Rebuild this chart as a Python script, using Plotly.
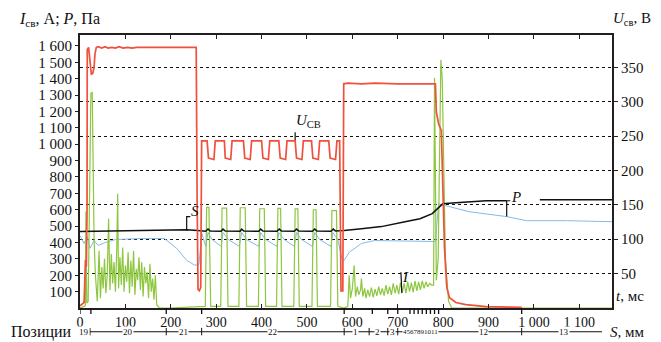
import plotly.graph_objects as go

# ---------------- data ----------------
x_tickvals = [0, 100, 200, 300, 400, 500, 600, 700, 800, 900, 1000, 1100]
x_ticktext = ["0", "100", "200", "300", "400", "500", "600", "700", "800", "900", "1 000", "1 100"]
yl_tickvals = [100, 200, 300, 400, 500, 600, 700, 800, 900, 1000, 1100, 1200, 1300, 1400, 1500, 1600]
yl_ticktext = ["100", "200", "300", "400", "500", "600", "700", "800", "900", "1 000",
               "1 100", "1 200", "1 300", "1 400", "1 500", "1 600"]
yr_tickvals = [50, 100, 150, 200, 250, 300, 350]

# U_св (V, right axis)
red_t = [0, 9, 12, 14, 15.5, 16, 19, 21, 23, 25, 28, 31, 33, 36, 40, 48, 55, 62, 70, 78, 86, 95, 105, 115,
         125, 140, 160, 180, 200, 220, 240, 256, 258, 260, 263, 266,
         268, 280, 283, 295, 298,
         318, 320, 332, 335,
         360, 363, 375, 378,
         400, 403, 415, 418,
         438, 441, 453, 456,
         474, 477, 489, 492,
         510, 513, 525, 528,
         548, 551, 563, 566,
         572, 575, 579, 581, 590, 620, 650, 700, 740, 783,
         785, 790, 796, 803, 808, 814, 828, 850, 895, 973]
red_u = [3, 8, 70, 60, 142, 376, 379, 365, 345, 340, 341, 350, 370, 379, 380, 378, 380, 378, 379, 378, 380, 378, 379, 378,
         379, 379, 379, 378, 379, 379, 379, 379, 162, 27, 25, 30,
         243, 243, 218, 216, 243,
         243, 218, 216, 243,
         243, 218, 216, 243,
         243, 218, 216, 243,
         243, 218, 216, 243,
         243, 218, 216, 243,
         243, 218, 216, 243,
         243, 218, 216, 243,
         243, 25, 25, 326, 327, 326, 327, 326, 326, 326,
         285, 268, 258, 87, 30, 15, 8, 5, 2, 1]

# I (A, left axis)
green_t = [0, 10, 12, 13, 15, 18, 24, 27, 31, 34, 38, 42, 45, 48, 51, 54, 57, 60, 63, 66, 69, 72, 75, 78, 81,
           83, 85, 88, 91, 94, 97, 100, 103, 106, 109, 112, 115, 118, 121, 124, 127, 130, 133, 136, 139,
           142, 145, 148, 151, 154, 157, 160, 163, 166, 169, 172, 175, 178, 181, 184, 187, 190, 195,
           276, 279, 284, 288,
           310, 313, 323, 326,
           350, 353, 364, 367,
           393, 396, 406, 409,
           433, 436, 442, 445,
           471, 474, 480, 483,
           511, 514, 520, 523,
           552, 555, 565, 568,
           582, 590, 593, 596, 600, 604, 607, 611, 614, 618, 620, 623, 627, 630, 634, 638, 642, 646, 650,
           654, 658, 662, 666, 670, 674, 678, 682, 686, 690, 694, 698, 702, 706, 710, 714, 718, 722, 726,
           730, 734, 738, 742, 746, 750, 754, 758, 762, 766, 770, 775, 779,
           781, 785, 789, 795, 798, 805, 812, 819, 1172]
green_i = [0, 10, 20, 590, 30, 40, 1310, 1315, 420, 200, 40, 350, 60, 250, 120, 300, 90, 200, 545, 110, 330, 150,
           280, 100, 360,
           697, 120, 310, 140, 370, 100, 260, 160, 340, 90, 290, 130, 350, 80, 240, 170, 310, 110, 280, 70,
           250, 150, 220, 60, 270, 100, 180, 50, 200, 20, 10, 0, 0, 0, 0, 0, 0, 0,
           10, 615, 615, 10,
           10, 610, 610, 10,
           10, 612, 612, 10,
           10, 606, 606, 10,
           10, 608, 608, 10,
           10, 605, 605, 10,
           10, 600, 600, 10,
           10, 594, 594, 10,
           0, 10, 200, 60, 120, 260, 70, 130, 80, 110, 180, 70, 120, 60, 110, 70, 125, 65, 115,
           75, 130, 80, 120, 75, 140, 85, 130, 80, 150, 90, 140, 85, 155, 95, 150, 90, 160, 100,
           155, 95, 165, 105, 160, 110, 165, 120, 160, 130, 150, 140, 140,
           1406, 170, 300, 1515, 1400, 300, 40, 0, 0]

# P (Pa, left axis)
black_t = [0, 80, 134, 201, 235, 259, 268, 277, 282, 287, 311, 315, 320, 353, 356, 361, 394, 398, 403,
           434, 439, 444, 472, 477, 482, 512, 517, 522, 553, 558, 563, 582, 620, 664, 716, 749, 776,
           783, 790, 799, 828, 857, 895, 940, None, 1013, 1172]
black_p = [467, 470, 473, 479, 478, 473, 470, 469, 482, 470, 469, 482, 470, 469, 482, 470, 469, 482, 470,
           469, 482, 470, 469, 482, 470, 469, 482, 470, 469, 482, 470, 473, 484, 497, 527, 545, 576,
           594, 618, 636, 642, 648, 655, 655, None, 661, 661]

# blue trace (left axis)
blue_t = [0, 9, 16, 22, 31, 40, 56, 78, 134, 186, 213, 235, 253, 262,
          268.5, 277, 282, 291, 311, 315, 327, 351, 356, 367, 394, 398, 409, 434, 438, 450,
          472, 477, 488, 512, 517, 528, 553, 557, 568, 577, 582, 593, 620, 649, 783, 790,
          857, 940, 984, 1074, 1172]
blue_v = [442, 394, 436, 364, 412, 382, 400, 418, 424, 424, 364, 291, 261, 267,
          455, 376, 461, 418, 376, 461, 418, 376, 461, 418, 376, 461, 418, 376, 461, 418,
          376, 461, 418, 376, 461, 418, 376, 461, 418, 300, 291, 340, 394, 412, 406, 636,
          588, 558, 533, 533, 527]

# position row (S, mm) boundaries and labels
pos_bounds = [0, 22, 190, 268, 582, 637, 678, 700, 973]
pos_line_end = 1150
axis_ticks = [0, 24, 190, 268, 582, 644, 678, 700, 727, 736, 745, 754, 763, 772, 781, 790, 973]
pos_labels = ["19", "20", "21", "22", "1", "2", "3", "4567891011", "12", "13"]
pos_label_t = [9, 105, 228, 425, 608, 656, 689, 750, 888, 1067]

# in-plot labels: text, label position, leader line
marks = [
    ("<i>S</i>", 253, 594, [235, 235, 243], [473, 558, 558]),
    ("<i>U</i><sub>СВ</sub>", 503, 1139, [474, 474], [1018, 1073]),
    ("<i>I</i>", 718, 188, [707, 709], [218, 91]),
    ("<i>P</i>", 960, 679, [948, 940, 940], [655, 655, 558]),
]

SERIF = "Liberation Serif"
fig = go.Figure()
fig.add_trace(go.Scatter(x=blue_t, y=blue_v, mode="lines", line=dict(color="#86b8e8", width=1), yaxis="y"))
fig.add_trace(go.Scatter(x=green_t, y=green_i, mode="lines", line=dict(color="#8dc63f", width=1.2), yaxis="y"))
fig.add_trace(go.Scatter(x=black_t, y=black_p, mode="lines", line=dict(color="#111111", width=1.5),
                         yaxis="y", connectgaps=False))
fig.add_trace(go.Scatter(x=red_t, y=red_u, mode="lines", line=dict(color="#f0503c", width=1.7), yaxis="y2"))

for text, lx, ly, px, py in marks:
    fig.add_trace(go.Scatter(x=px, y=py, mode="lines", line=dict(color="#111111", width=1.2), yaxis="y"))
    fig.add_annotation(x=lx, y=ly, xref="x", yref="y", text=text, showarrow=False,
                       font=dict(family=SERIF, size=15, color="#111"))

shapes = []
# position boundary ticks below the axis
for t in axis_ticks:
    shapes.append(dict(type="line", xref="x", yref="paper", x0=t, x1=t, y0=0, y1=-0.022,
                       line=dict(color="#111", width=1.3)))
# position row line
shapes.append(dict(type="line", xref="x", yref="paper", x0=pos_bounds[1], x1=pos_line_end, y0=-0.087, y1=-0.087,
                   line=dict(color="#111", width=1)))
for t in pos_bounds:
    shapes.append(dict(type="line", xref="x", yref="paper", x0=t, x1=t, y0=-0.073, y1=-0.1,
                       line=dict(color="#111", width=1)))
for lab, t in zip(pos_labels, pos_label_t):
    fig.add_annotation(x=t, y=-0.087, xref="x", yref="paper", text=lab, showarrow=False,
                       font=dict(family=SERIF, size=9 if len(lab) < 4 else 7, color="#111"),
                       bgcolor="white", borderpad=0, yanchor="middle")

annots = [
    dict(text="<i>I</i><sub>св</sub>, А; <i>P</i>, Па", x=-0.118, y=1.055, xanchor="left", yanchor="middle", size=16),
    dict(text="<i>U</i><sub>св</sub>, В", x=0.998, y=1.06, xanchor="left", yanchor="middle", size=15),
    dict(text="<i>t</i>, мс", x=1.003, y=0.0436, xanchor="left", yanchor="middle", size=15),
    dict(text="<i>S</i>, мм", x=0.992, y=-0.087, xanchor="left", yanchor="middle", size=15),
    dict(text="Позиции", x=-0.134, y=-0.087, xanchor="left", yanchor="middle", size=16),
]
for a in annots:
    sz = a.pop("size")
    fig.add_annotation(xref="paper", yref="paper", showarrow=False,
                       font=dict(family=SERIF, size=sz, color="#111"), **a)

axis_line = "#231f20"
# the page body adds an 8px offset, so the figure is 8px smaller and margins shifted
fig.update_layout(
    width=653, height=334,
    margin=dict(l=72, r=49, t=27, b=24),
    paper_bgcolor="white", plot_bgcolor="white",
    showlegend=False,
    shapes=shapes,
    font=dict(family=SERIF, color="#111"),
    xaxis=dict(range=[0, 1172], tickvals=x_tickvals, ticktext=x_ticktext, ticks="inside", ticklen=4,
               tickcolor=axis_line, mirror="ticks", showline=True, linecolor=axis_line, linewidth=2,
               showgrid=False, zeroline=False, tickfont=dict(family=SERIF, size=14, color="#111"),
               ticklabelstandoff=0),
    yaxis=dict(range=[0, 1667], tickvals=yl_tickvals, ticktext=yl_ticktext, ticks="outside", ticklen=3,
               tickcolor=axis_line, showline=True, linecolor=axis_line, linewidth=2, mirror=True,
               showgrid=False, zeroline=False, tickfont=dict(family=SERIF, size=15, color="#111")),
    yaxis2=dict(range=[0, 397], overlaying="y", side="right", tickvals=yr_tickvals, ticks="outside",
                ticklen=4, tickcolor=axis_line, showline=True, linecolor=axis_line, linewidth=2,
                showgrid=True, gridcolor="#111", gridwidth=1, griddash="3px,3px", zeroline=False,
                tickfont=dict(family=SERIF, size=15, color="#111")),
)

fig.write_html("out.html")
